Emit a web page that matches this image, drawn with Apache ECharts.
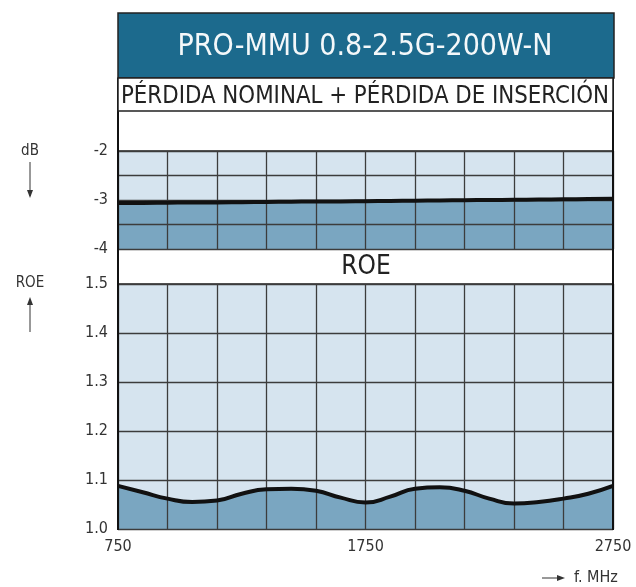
<!DOCTYPE html>
<html>
<head>
<meta charset="utf-8">
<script src="https://cdn.jsdelivr.net/npm/echarts@6/dist/echarts.min.js"></script>
<style>
  html, body { margin: 0; padding: 0; background: #fff; }
  #main { width: 636px; height: 587px; }
</style>
</head>
<body>
<div id="main"></div>
<script>
// frequency samples (MHz) shared by both curves
var freqs = [750, 850, 950, 1050, 1150, 1250, 1350, 1450, 1550, 1650, 1750,
             1850, 1950, 2050, 2150, 2250, 2350, 2450, 2550, 2650, 2750];
// insertion loss, dB
var lossDb = [-3.06, -3.06, -3.055, -3.05, -3.05, -3.045, -3.04, -3.035, -3.03, -3.03, -3.025,
              -3.02, -3.015, -3.01, -3.005, -3.0, -2.995, -2.99, -2.985, -2.98, -2.975];
// VSWR (ROE)
var roe = [1.088, 1.075, 1.062, 1.055, 1.058, 1.072, 1.081, 1.082, 1.078, 1.064, 1.054,
           1.066, 1.082, 1.085, 1.078, 1.062, 1.052, 1.055, 1.062, 1.072, 1.088];
var xTickLabels = [750, 1750, 2750];

var lightCell = '#d6e4ef';
var darkCell = '#7aa6c1';
var gridLine = '#3c3c3c';

var myChart = echarts.init(document.getElementById('main'));

function pairs(ys) {
    return freqs.map(function (f, i) { return [f, ys[i]]; });
}

// axes sit above the filled areas so the grid shows through, curves go on top
var xAxisBase = {
    type: 'value',
    min: 750,
    max: 2750,
    interval: 200,
    z: 5,
    axisLine: { show: false },
    axisTick: { show: false },
    splitLine: { show: true, lineStyle: { color: gridLine, width: 1.3 } }
};

var option = {
    animation: false,
    textStyle: { fontFamily: 'DejaVu Sans Condensed' },
    grid: [
        { left: 118, top: 151, width: 495, height: 98, show: true,
          backgroundColor: lightCell, borderColor: '#222', borderWidth: 1.5 },
        { left: 118, top: 284, width: 495, height: 245, show: true,
          backgroundColor: lightCell, borderColor: '#222', borderWidth: 1.5 }
    ],
    xAxis: [
        Object.assign({}, xAxisBase, { gridIndex: 0, axisLabel: { show: false } }),
        Object.assign({}, xAxisBase, {
            gridIndex: 1,
            axisLabel: {
                show: true, color: '#333', fontSize: 16, margin: 10,
                formatter: function (v) { return xTickLabels.indexOf(v) >= 0 ? String(v) : ''; }
            }
        })
    ],
    yAxis: [
        {
            gridIndex: 0, type: 'value', min: -4, max: -2, interval: 0.5, z: 5,
            axisLine: { show: true, lineStyle: { color: '#111', width: 2 } },
            axisTick: { show: false },
            axisLabel: {
                color: '#333', fontSize: 16, margin: 10,
                formatter: function (v) { return Number.isInteger(v) ? String(v) : ''; }
            },
            splitLine: { show: true, lineStyle: { color: gridLine, width: 1.3 } }
        },
        {
            gridIndex: 1, type: 'value', min: 1.0, max: 1.5, interval: 0.1, z: 5,
            axisLine: { show: true, lineStyle: { color: '#111', width: 2 } },
            axisTick: { show: false },
            axisLabel: {
                color: '#333', fontSize: 16, margin: 10,
                formatter: function (v) { return v.toFixed(1); }
            },
            splitLine: { show: true, lineStyle: { color: gridLine, width: 1.3 } }
        }
    ],
    series: [
        {
            name: 'Pérdida área', type: 'line', xAxisIndex: 0, yAxisIndex: 0,
            data: pairs(lossDb), smooth: true, showSymbol: false, z: 1,
            lineStyle: { width: 0 },
            areaStyle: { color: darkCell, opacity: 1, origin: 'start' }
        },
        {
            name: 'Pérdida', type: 'line', xAxisIndex: 0, yAxisIndex: 0,
            data: pairs(lossDb), smooth: true, showSymbol: false, z: 10,
            lineStyle: { color: '#111', width: 4 }
        },
        {
            name: 'ROE área', type: 'line', xAxisIndex: 1, yAxisIndex: 1,
            data: pairs(roe), smooth: true, showSymbol: false, z: 1,
            lineStyle: { width: 0 },
            areaStyle: { color: darkCell, opacity: 1, origin: 'start' }
        },
        {
            name: 'ROE', type: 'line', xAxisIndex: 1, yAxisIndex: 1,
            data: pairs(roe), smooth: true, showSymbol: false, z: 10,
            lineStyle: { color: '#111', width: 4 }
        }
    ],
    graphic: [
        // frame sides between header and grids
        { type: 'line', shape: { x1: 118, y1: 78, x2: 118, y2: 530 }, style: { stroke: '#111', lineWidth: 2 }, z: 100 },
        { type: 'line', shape: { x1: 613, y1: 78, x2: 613, y2: 530 }, style: { stroke: '#111', lineWidth: 2 }, z: 100 },
        // title box
        { type: 'rect', shape: { x: 118, y: 13, width: 496, height: 65 },
          style: { fill: '#1c6a8d', stroke: '#222', lineWidth: 1.5 }, z: 100 },
        { type: 'text', x: 365, y: 47, z: 101,
          style: { text: 'PRO-MMU 0.8-2.5G-200W-N', fill: '#f4f8fa', fontSize: 30,
                   fontFamily: 'DejaVu Sans Condensed', align: 'center', verticalAlign: 'middle' } },
        // subtitle box
        { type: 'rect', shape: { x: 118, y: 78, width: 495, height: 33 },
          style: { fill: '#fff', stroke: '#222', lineWidth: 1.5 }, z: 100 },
        { type: 'text', x: 365, y: 96, scaleX: 0.95, originX: 0, originY: 0, z: 101,
          style: { text: 'PÉRDIDA NOMINAL + PÉRDIDA DE INSERCIÓN', fill: '#222', fontSize: 25,
                   fontFamily: 'DejaVu Sans Condensed', align: 'center', verticalAlign: 'middle' } },
        // ROE band label
        { type: 'text', x: 366, y: 267, z: 101,
          style: { text: 'ROE', fill: '#222', fontSize: 26,
                   fontFamily: 'DejaVu Sans Condensed', align: 'center', verticalAlign: 'middle' } },
        // left-side unit labels with arrows
        { type: 'text', x: 30, y: 151, style: { text: 'dB', fill: '#333', fontSize: 15, align: 'center', verticalAlign: 'middle', fontFamily: 'DejaVu Sans Condensed' } },
        { type: 'line', shape: { x1: 30, y1: 162, x2: 30, y2: 196 }, style: { stroke: '#333', lineWidth: 1 } },
        { type: 'polygon', shape: { points: [[27, 190], [33, 190], [30, 198]] }, style: { fill: '#333' } },
        { type: 'text', x: 30, y: 283, style: { text: 'ROE', fill: '#333', fontSize: 15, align: 'center', verticalAlign: 'middle', fontFamily: 'DejaVu Sans Condensed' } },
        { type: 'line', shape: { x1: 30, y1: 300, x2: 30, y2: 332 }, style: { stroke: '#333', lineWidth: 1 } },
        { type: 'polygon', shape: { points: [[27, 305], [33, 305], [30, 297]] }, style: { fill: '#333' } },
        // x unit
        { type: 'line', shape: { x1: 542, y1: 578, x2: 562, y2: 578 }, style: { stroke: '#333', lineWidth: 1 } },
        { type: 'polygon', shape: { points: [[557, 575], [557, 581], [565, 578]] }, style: { fill: '#333' } },
        { type: 'text', x: 574, y: 578, style: { text: 'f. MHz', fill: '#333', fontSize: 16, align: 'left', verticalAlign: 'middle', fontFamily: 'DejaVu Sans Condensed' } }
    ]
};

myChart.setOption(option);
</script>
</body>
</html>
